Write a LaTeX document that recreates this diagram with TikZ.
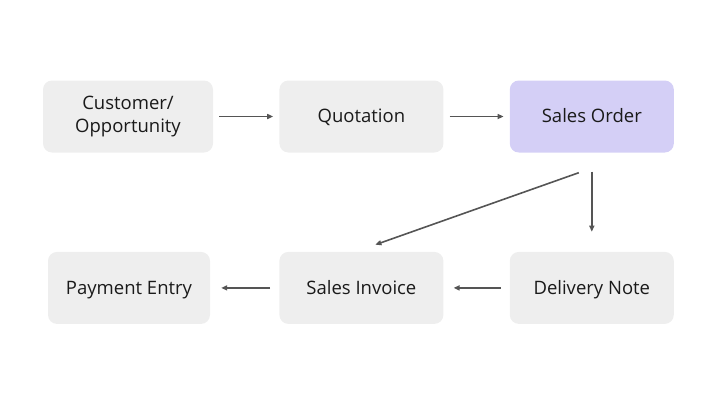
\documentclass[tikz,border=0pt]{standalone}
\usepackage{fontspec}
\setmainfont{Open Sans}
\usepackage{xcolor}
\usetikzlibrary{arrows.meta,positioning}
\definecolor{flowgray}{HTML}{EEEEEE}
\definecolor{flowpurple}{HTML}{D4CFF6}
\definecolor{flowarrow}{HTML}{555555}
\definecolor{flowtext}{HTML}{1A1A1A}

\begin{document}
\begin{tikzpicture}[
  x=1pt, y=-1pt,
  font=\fontsize{18.5}{23}\selectfont,
  node distance=99pt and 66pt,
  card/.style={rounded corners=9pt, align=center, minimum width=164pt,
               minimum height=72pt, text=flowtext, fill=flowgray},
  doc/.style={card, text height=15pt, text depth=2.5pt},
  hilite/.style={doc, fill=flowpurple},
  arr/.style={-{Triangle[length=6pt, width=5pt]}, flowarrow, line width=1.6pt,
              shorten >=6pt, shorten <=6pt}
]
\useasboundingbox (0,0) rectangle (720,405);

\node[card, minimum width=170pt] (cust) at (128,116.5) {Customer/\\Opportunity};
\node[doc, right=66pt of cust.east, anchor=west] (quot) {Quotation};
\node[hilite, right=of quot] (so) {Sales Order};

\node[doc, below=of so] (dn) {Delivery Note};
\node[doc, left=of dn] (si) {Sales Invoice};
\node[doc, minimum width=162pt, left=69pt of si] (pe) {Payment Entry};

\draw[arr] (cust) -- (quot);
\draw[arr] (quot) -- (so);
\draw[arr, shorten <=19pt, shorten >=20pt] (so) -- (dn);
\draw[arr, shorten <=0pt, shorten >=0pt] ([xshift=-13pt, yshift=-20pt]so.south)
  -- ([xshift=14pt, yshift=7pt]si.north);
\draw[arr, shorten <=9pt, shorten >=10pt] (dn) -- (si);
\draw[arr, shorten <=9pt, shorten >=11pt] (si) -- (pe);

\end{tikzpicture}
\end{document}
